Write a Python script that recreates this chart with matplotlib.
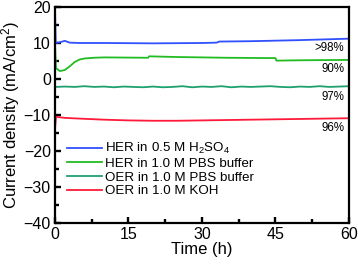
import matplotlib
matplotlib.use("Agg")
import matplotlib.pyplot as plt
from matplotlib.ticker import MultipleLocator

plt.rcParams['font.family'] = ['Liberation Sans', 'DejaVu Sans']
plt.rcParams['mathtext.default'] = 'regular'

# ---- data ----
t_blue = [0, 0.15, 1, 2, 3, 5, 10, 20, 30, 33, 33.5, 40, 50, 55, 60]
j_blue = [20, 10.0, 10.2, 10.6, 10.1, 10.0, 10.0, 9.9, 10.0, 10.1, 10.4, 10.5, 10.8, 11.0, 11.2]

t_green = [0, 0.2, 1, 2, 3, 4, 5, 6, 8, 10, 19, 19.2, 25, 35, 45, 45.2, 50, 60]
j_green = [10, 3.0, 2.2, 2.5, 3.5, 4.7, 5.4, 5.7, 5.9, 6.0, 5.9, 6.3, 6.1, 5.9, 5.8, 5.1, 5.2, 5.3]

t_teal = [0, 0.2, 2, 4, 6, 8, 10, 12, 14, 16, 18, 20, 22, 24, 26, 28, 30, 32, 34, 36,
          38, 40, 42, 44, 46, 48, 50, 52, 54, 56, 58, 60]
j_teal = [-2.0, -2.2, -2.1, -2.2, -2.0, -2.2, -2.1, -2.3, -2.1, -2.2, -2.3, -2.1, -2.3, -2.2,
          -2.0, -2.3, -2.1, -2.2, -2.0, -2.3, -2.1, -2.2, -2.1, -2.0, -2.2, -2.3, -2.1, -2.2,
          -2.0, -2.2, -2.1, -2.0]

t_red = [0, 0.2, 2, 5, 10, 15, 20, 25, 30, 35, 40, 45, 50, 55, 60]
j_red = [-14, -10.5, -10.8, -11.0, -11.3, -11.5, -11.6, -11.6, -11.5, -11.4, -11.3, -11.2, -11.1, -11.0, -10.9]

labels = [r'HER in 0.5 M H$_2$SO$_4$', 'HER in 1.0 M PBS buffer',
          'OER in 1.0 M PBS buffer', 'OER in 1.0 M KOH']
colors = ['#3050ff', '#22bb22', '#1fa070', '#ff1a3a']

pct_labels = ['>98%', '90%', '97%', '96%']
pct_t = [59, 59, 59, 59]
pct_y = [8.6, 2.8, -5.0, -13.6]

# ---- figure ----
fig = plt.figure(figsize=(3.58, 2.65), dpi=100)
ax = fig.add_axes([0.1536, 0.1585, 0.8212, 0.8151])

series = [(t_blue, j_blue), (t_green, j_green), (t_teal, j_teal), (t_red, j_red)]
for (t, j), c, lab in zip(series, colors, labels):
    ax.plot(t, j, color=c, lw=1.3, label=lab, clip_on=True)

for s, tx, ty in zip(pct_labels, pct_t, pct_y):
    ax.text(tx, ty, s, ha='right', va='center', fontsize=8.3)

ax.set_xlim(0, 60)
ax.set_ylim(-40, 20)
ax.xaxis.set_major_locator(MultipleLocator(15))
ax.xaxis.set_minor_locator(MultipleLocator(7.5))
ax.yaxis.set_major_locator(MultipleLocator(10))
ax.yaxis.set_minor_locator(MultipleLocator(5))
ax.tick_params(which='both', direction='in', top=False, right=False, labelsize=11.5, width=1.7)
ax.tick_params(which='major', length=4, pad=3)
ax.tick_params(which='minor', length=3)
for sp in ax.spines.values():
    sp.set_linewidth(1.6)

ax.set_xlabel('Time (h)', fontsize=12, labelpad=0)
ax.set_ylabel('Current density (mA/cm$^2$)', fontsize=12, labelpad=1)

ax.legend(loc='lower left', bbox_to_anchor=(0.01, 0.075), frameon=False, fontsize=9.6,
          handlelength=2.6, handletextpad=0.25, labelspacing=0.1, borderpad=0.2)

fig.savefig('out.png', dpi=100)
